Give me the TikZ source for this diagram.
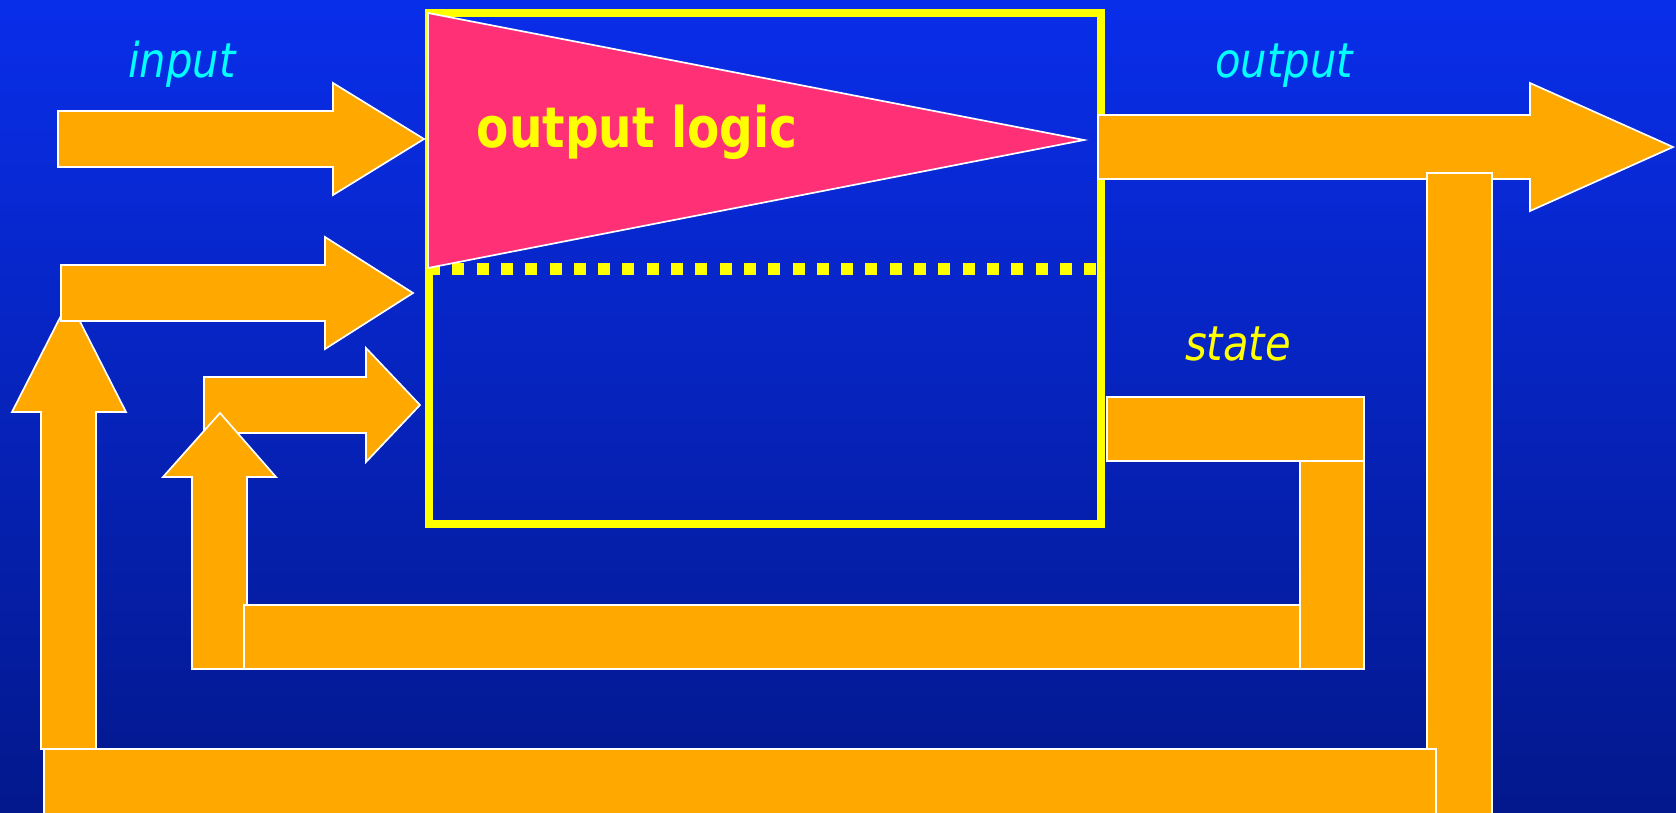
\documentclass[tikz,border=0pt]{standalone}
\usepackage{fontspec}
\newfontfamily\labelfont{DejaVu Sans}[FakeStretch=0.87]
\newfontfamily\logicfont{DejaVu Sans}[FakeStretch=0.84]
\definecolor{bgtop}{RGB}{9,46,234}
\definecolor{bgbot}{RGB}{3,24,140}
\definecolor{flow}{RGB}{255,168,0}
\definecolor{logicpink}{RGB}{255,48,118}
\definecolor{hiyellow}{RGB}{255,255,0}
\definecolor{sigcyan}{RGB}{0,255,255}
\begin{document}
\begin{tikzpicture}[x=1pt,y=-1pt,
  flowshape/.style={fill=flow,draw=white,line width=1.7pt,line join=miter},
  siglabel/.style={inner sep=0pt,anchor=base,font=\labelfont\itshape\fontsize{48}{56}\selectfont},
  logicbox/.style={draw=hiyellow,line width=8pt},
  regline/.style={draw=hiyellow,line width=12pt,dash pattern=on 12pt off 12.3pt},
  logictri/.style={fill=logicpink,draw=white,line width=1.7pt,line join=miter},
]
% canvas and background
\path[use as bounding box] (0,0) rectangle (1676,812);
\clip (0,0) rectangle (1676,812);
\shade[top color=bgtop,bottom color=bgbot] (0,0) rectangle (1676,812);

% combinational block with register boundary
\coordinate (boxNW) at (428.5,13);
\coordinate (boxSE) at (1100.5,524);
\draw[logicbox] (boxNW) rectangle (boxSE);
\coordinate (regL) at (428,269);
\coordinate (regR) at (1100,269);
\draw[regline] (regL) -- (regR);
\coordinate (triA) at (428,13);
\coordinate (triB) at (1084,140);
\coordinate (triC) at (428,268);
\filldraw[logictri] (triA) -- (triB) -- (triC) -- cycle;
\node[inner sep=0pt,anchor=base,text=hiyellow,
      font=\logicfont\bfseries\fontsize{56}{64}\selectfont]
      (logic) at (637,147) {output logic};

% output arrow and feedback to the input side
\filldraw[flowshape] (1098,115) -- (1530,115) -- (1530,83) -- (1673,147)
  -- (1530,211) -- (1530,179) -- (1098,179) -- cycle;
\filldraw[flowshape] (1427,173) rectangle (1492,830);
\filldraw[flowshape] (44,749) rectangle (1436,830);
\filldraw[flowshape] (41,749) -- (41,412) -- (12,412) -- (69,300)
  -- (126,412) -- (96,412) -- (96,749) -- cycle;

% input arrows
\filldraw[flowshape] (58,111) -- (333,111) -- (333,83) -- (424,139)
  -- (333,195) -- (333,167) -- (58,167) -- cycle;
\filldraw[flowshape] (61,265) -- (325,265) -- (325,237) -- (413,293)
  -- (325,349) -- (325,321) -- (61,321) -- cycle;
\filldraw[flowshape] (204,377) -- (366,377) -- (366,348) -- (420,405)
  -- (366,462) -- (366,433) -- (204,433) -- cycle;

% state feedback loop
\filldraw[flowshape] (192,669) -- (192,477) -- (163,477) -- (220,413)
  -- (276,477) -- (247,477) -- (247,669) -- cycle;
\filldraw[flowshape] (244,605) rectangle (1300,669);
\filldraw[flowshape] (1300,445) rectangle (1364,669);
\filldraw[flowshape] (1107,397) rectangle (1364,461);

% signal labels
\node[siglabel,text=sigcyan] (inlbl) at (182,77) {input};
\node[siglabel,text=sigcyan] (outlbl) at (1284,77) {output};
\node[siglabel,text=hiyellow] (statelbl) at (1238,360) {state};
\end{tikzpicture}
\end{document}
